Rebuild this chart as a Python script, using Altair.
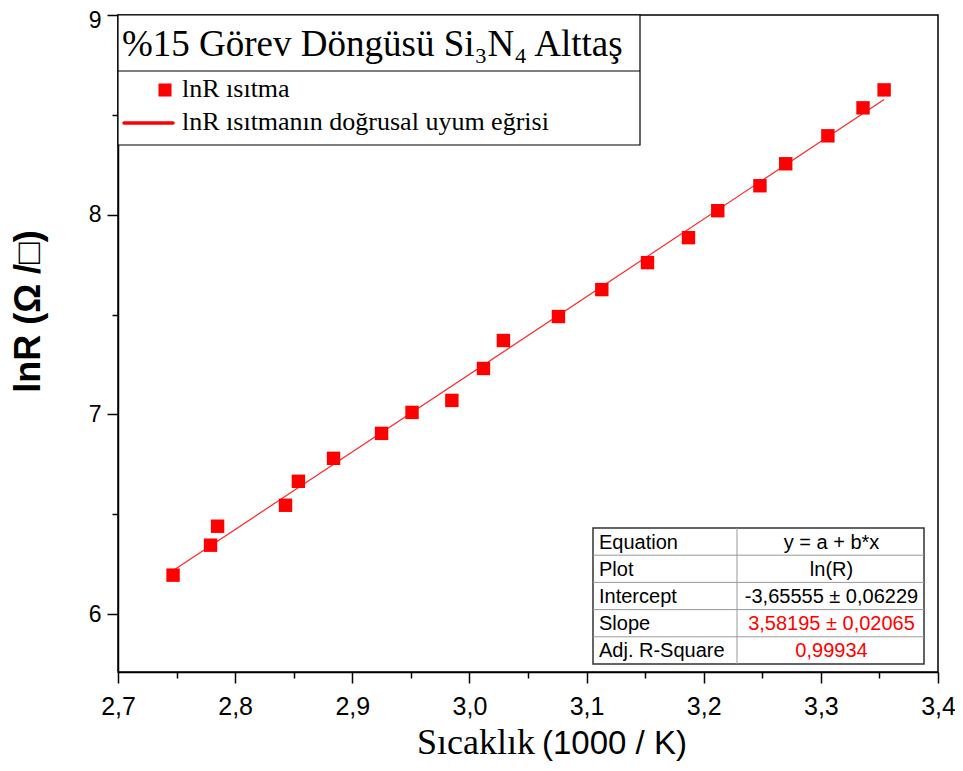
import altair as alt
import pandas as pd

# ---- data ----
x_vals = [2.747, 2.779, 2.785, 2.843, 2.854, 2.884, 2.925, 2.951, 2.985, 3.012, 3.029,
          3.076, 3.113, 3.152, 3.187, 3.212, 3.248, 3.270, 3.306, 3.336, 3.354]
y_vals = [6.195, 6.345, 6.44, 6.545, 6.665, 6.78, 6.905, 7.01, 7.07, 7.23, 7.37,
          7.49, 7.625, 7.76, 7.885, 8.02, 8.145, 8.255, 8.395, 8.535, 8.625]
x_ticks = [2.7, 2.75, 2.8, 2.85, 2.9, 2.95, 3.0, 3.05, 3.1, 3.15, 3.2, 3.25, 3.3, 3.35, 3.4]
y_ticks = [6.0, 6.5, 7.0, 7.5, 8.0, 8.5, 9.0]

title_text = "%15 Görev Döngüsü Si₃N₄ Alttaş"
legend_points = "lnR ısıtma"
legend_line = "lnR ısıtmanın doğrusal uyum eğrisi"
x_title_a = "Sıcaklık"
x_title_b = "(1000 / K)"
y_title = "lnR (Ω /□)"

table_labels = ["Equation", "Plot", "Intercept", "Slope", "Adj. R-Square"]
table_values = ["y = a + b*x", "ln(R)", "-3,65555 ± 0,06229", "3,58195 ± 0,02065", "0,99934"]
table_colors = ["black", "black", "black", "#ff0000", "#ff0000"]

df = pd.DataFrame({"x": x_vals, "y": y_vals})

W, H = 820, 657
RED = "#ff0000"
SERIF = "Liberation Serif"
SANS = "Liberation Sans"

major_x = "abs(datum.value*10 - round(datum.value*10)) < 0.001"
major_y = "abs(datum.value - round(datum.value)) < 0.001"

xscale = alt.Scale(domain=[2.7, 3.4], nice=False, zero=False)
yscale = alt.Scale(domain=[5.71, 9.0], nice=False, zero=False)

xaxis = alt.Axis(
    values=x_ticks, grid=False, title=None,
    labelExpr=f"{major_x} ? replace(format(datum.value, '.1f'), '.', ',') : ''",
    tickSize={"condition": {"test": major_x, "value": 11}, "value": 6},
    labelFont=SANS, labelFontSize=25, labelColor="black", labelPadding=11,
    tickColor="black", tickWidth=1.5, domainColor="black", domainWidth=1.5,
    labelFlush=False, labelOverlap=False,
)
yaxis = alt.Axis(
    values=y_ticks, grid=False, title=y_title,
    labelExpr=f"{major_y} ? format(datum.value, '.0f') : ''",
    tickSize={"condition": {"test": major_y, "value": 11}, "value": 6},
    labelOffset={"condition": {"test": "datum.value > 8.9", "value": 5}, "value": 0},
    labelFont=SANS, labelFontSize=23, labelColor="black", labelPadding=6,
    tickColor="black", tickWidth=1.5, domainColor="black", domainWidth=1.5,
    labelFlush=False, labelOverlap=False,
    titleFont=SANS, titleFontSize=36, titleFontWeight="bold", titleColor="black",
    titleAngle=270, titleX=-90, titleY=296, titleAlign="center", titleBaseline="middle",
)

base = alt.Chart(df)

points = base.mark_square(size=180, color=RED, opacity=1).encode(
    x=alt.X("x:Q", scale=xscale, axis=xaxis),
    y=alt.Y("y:Q", scale=yscale, axis=yaxis),
)

fit = base.transform_regression("x", "y").mark_line(color=RED, strokeWidth=1.2, opacity=0.85).encode(
    x=alt.X("x:Q", scale=xscale),
    y=alt.Y("y:Q", scale=yscale),
)

one = pd.DataFrame({"a": [0]})
ann = alt.Chart(one)

layers = [fit, points]

# legend box
layers.append(ann.mark_rect(fill="white", stroke="black", strokeWidth=1.2).encode(
    x=alt.value(0), x2=alt.value(522), y=alt.value(0), y2=alt.value(130)))
layers.append(ann.mark_rule(color="black", strokeWidth=1).encode(
    x=alt.value(0), x2=alt.value(522), y=alt.value(56)))
layers.append(ann.mark_text(text=title_text, font=SERIF, fontSize=37, align="left",
                            baseline="alphabetic", color="black").encode(
    x=alt.value(4), y=alt.value(41)))
layers.append(ann.mark_square(size=170, color=RED, opacity=1).encode(
    x=alt.value(47), y=alt.value(75)))
layers.append(ann.mark_text(text=legend_points, font=SERIF, fontSize=26, align="left",
                            baseline="alphabetic", color="black").encode(
    x=alt.value(64), y=alt.value(82)))
layers.append(ann.mark_rule(color=RED, strokeWidth=3.5, strokeCap="round").encode(
    x=alt.value(6), x2=alt.value(55), y=alt.value(108)))
layers.append(ann.mark_text(text=legend_line, font=SERIF, fontSize=26, align="left",
                            baseline="alphabetic", color="black").encode(
    x=alt.value(64), y=alt.value(115)))

# stats table
tl, tr, tdiv, ttop, rh = 475, 806, 619, 513, 27.2
layers.append(ann.mark_rect(fill="white", stroke="#333333", strokeWidth=1.5).encode(
    x=alt.value(tl), x2=alt.value(tr), y=alt.value(ttop), y2=alt.value(ttop + rh * len(table_labels))))
layers.append(ann.mark_rule(color="#999999", strokeWidth=1).encode(
    x=alt.value(tdiv), y=alt.value(ttop), y2=alt.value(ttop + rh * len(table_labels))))
for i, (lab, val, col) in enumerate(zip(table_labels, table_values, table_colors)):
    yc = ttop + rh * (i + 0.5)
    if i > 0:
        layers.append(ann.mark_rule(color="#999999", strokeWidth=1).encode(
            x=alt.value(tl), x2=alt.value(tr), y=alt.value(ttop + rh * i)))
    layers.append(ann.mark_text(text=lab, font=SANS, fontSize=20, align="left",
                                baseline="middle", color="black").encode(
        x=alt.value(tl + 6), y=alt.value(yc + 1)))
    layers.append(ann.mark_text(text=val, font=SANS, fontSize=20, align="center",
                                baseline="middle", color=col).encode(
        x=alt.value((tdiv + tr) / 2 + 1), y=alt.value(yc + 1)))

# x title (mixed fonts)
layers.append(ann.mark_text(text=x_title_a, font=SERIF, fontSize=36, align="right",
                            baseline="alphabetic", color="black").encode(
    x=alt.value(417), y=alt.value(739)))
layers.append(ann.mark_text(text=x_title_b, font=SANS, fontSize=33, align="left",
                            baseline="alphabetic", color="black").encode(
    x=alt.value(424), y=alt.value(739)))

chart = alt.layer(*layers).properties(
    width=W, height=H,
    autosize=alt.AutoSizeParams(type="none"),
    padding={"left": 110, "top": 7, "right": 17, "bottom": 91},
    background="white",
).configure_view(stroke="black", strokeWidth=1.5)

chart.save("out.html", embed_options={"renderer": "svg", "actions": False})
